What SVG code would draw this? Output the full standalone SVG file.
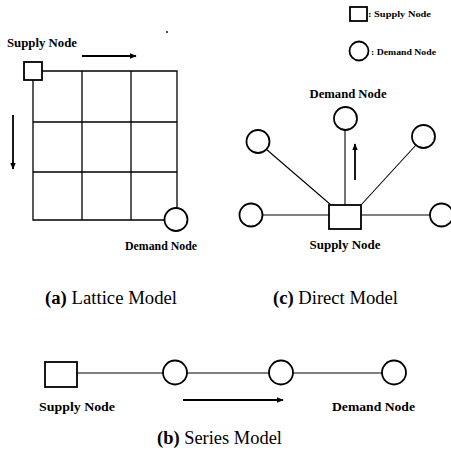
<svg xmlns="http://www.w3.org/2000/svg" width="451" height="452" viewBox="0 0 451 452">
  <defs>
    <marker id="head" viewBox="0 0 10 10" refX="9" refY="5" markerWidth="4" markerHeight="4" orient="auto" markerUnits="strokeWidth">
      <path d="M0,1 L10,5 L0,9 z" fill="#000"/>
    </marker>
    <style>
      .node { fill: #fff; stroke: #000; stroke-width: 1.8; }
      .edge { stroke: #000; stroke-width: 1.1; fill: none; }
      .grid { stroke: #000; stroke-width: 1.3; fill: none; }
      .flow { stroke: #000; stroke-width: 1.8; fill: none; marker-end: url(#head); }
      .lbl { font-family: "Liberation Serif", "Times New Roman", serif; font-weight: bold; fill: #000; }
      .cap { font-family: "Liberation Serif", "Times New Roman", serif; fill: #000; font-size: 18px; }
      .cap tspan.tag { font-weight: bold; }
    </style>
  </defs>
  <rect width="451" height="452" fill="#fff"/>

  <!-- legend -->
  <g id="legend">
    <rect class="node" x="350" y="7" width="17" height="14" stroke-width="1.4"/>
    <text class="lbl" x="368" y="17" font-size="9" textLength="63" lengthAdjust="spacingAndGlyphs">: Supply Node</text>
    <circle class="node" cx="359" cy="51" r="9.5" stroke-width="1.4"/>
    <text class="lbl" x="371" y="55" font-size="9" textLength="65" lengthAdjust="spacingAndGlyphs">: Demand Node</text>
  </g>

  <!-- connectors -->
  <g id="connectors">
    <!-- (a) lattice grid -->
    <path class="grid" d="M33,71 H177 V220 H33 Z M82,71 V220 M131,71 V220 M33,122 H177 M33,172 H177"/>
    <!-- (c) direct links -->
    <line class="edge" x1="345" y1="130" x2="345" y2="205"/>
    <line class="edge" x1="266" y1="149" x2="331" y2="205"/>
    <line class="edge" x1="416" y1="145" x2="361" y2="205"/>
    <line class="edge" x1="262" y1="215" x2="329" y2="215"/>
    <line class="edge" x1="361" y1="215" x2="430" y2="215" stroke-width="1.6"/>
    <!-- (b) series links -->
    <line class="edge" x1="77" y1="373" x2="163" y2="373"/>
    <line class="edge" x1="187" y1="373" x2="269" y2="373"/>
    <line class="edge" x1="293" y1="373" x2="382" y2="373"/>
    <!-- flow directions -->
    <line class="flow" x1="82" y1="56" x2="136" y2="56"/>
    <line class="flow" x1="13" y1="115" x2="13" y2="169"/>
    <line class="flow" x1="355" y1="180" x2="355" y2="144"/>
    <line class="flow" x1="183" y1="400" x2="283" y2="400"/>
  </g>

  <!-- (a) lattice model -->
  <g id="lattice-supply">
    <rect class="node" x="24" y="62" width="18" height="18"/>
    <text class="lbl" x="7" y="47" font-size="12.5" textLength="70" lengthAdjust="spacingAndGlyphs">Supply Node</text>
  </g>
  <g id="lattice-demand">
    <circle class="node" cx="176" cy="219.5" r="11.5"/>
    <text class="lbl" x="125" y="250" font-size="12.5" textLength="72" lengthAdjust="spacingAndGlyphs">Demand Node</text>
  </g>
  <circle cx="167" cy="32" r="0.9" fill="#000"/>
  <text class="cap" x="45" y="304" textLength="132" lengthAdjust="spacingAndGlyphs"><tspan class="tag">(a)</tspan> Lattice Model</text>

  <!-- (c) direct model -->
  <g id="direct-supply">
    <rect class="node" x="329" y="205" width="32" height="24"/>
    <text class="lbl" x="345" y="249" font-size="12.5" text-anchor="middle" textLength="71" lengthAdjust="spacingAndGlyphs">Supply Node</text>
  </g>
  <g id="direct-demand-top">
    <circle class="node" cx="345.5" cy="118.5" r="11.5"/>
    <text class="lbl" x="348" y="98" font-size="12.5" text-anchor="middle" textLength="77" lengthAdjust="spacingAndGlyphs">Demand Node</text>
  </g>
  <g id="direct-demand-ul"><circle class="node" cx="258" cy="141.5" r="11.5"/></g>
  <g id="direct-demand-ur"><circle class="node" cx="423.5" cy="136.5" r="11.5"/></g>
  <g id="direct-demand-l"><circle class="node" cx="251" cy="215" r="11.5"/></g>
  <g id="direct-demand-r"><circle class="node" cx="441.5" cy="215" r="11.5"/></g>
  <text class="cap" x="273" y="304" textLength="125" lengthAdjust="spacingAndGlyphs"><tspan class="tag">(c)</tspan> Direct Model</text>

  <!-- (b) series model -->
  <g id="series-supply">
    <rect class="node" x="45" y="362" width="32" height="25"/>
    <text class="lbl" x="39" y="411" font-size="13.5" textLength="76" lengthAdjust="spacingAndGlyphs">Supply Node</text>
  </g>
  <g id="series-demand-1"><circle class="node" cx="175" cy="372.5" r="12"/></g>
  <g id="series-demand-2"><circle class="node" cx="281" cy="372.5" r="12"/></g>
  <g id="series-demand-3">
    <circle class="node" cx="394" cy="372.5" r="12"/>
    <text class="lbl" x="332" y="411" font-size="13.5" textLength="83" lengthAdjust="spacingAndGlyphs">Demand Node</text>
  </g>
  <text class="cap" x="157" y="444" textLength="125" lengthAdjust="spacingAndGlyphs"><tspan class="tag">(b)</tspan> Series Model</text>
</svg>
